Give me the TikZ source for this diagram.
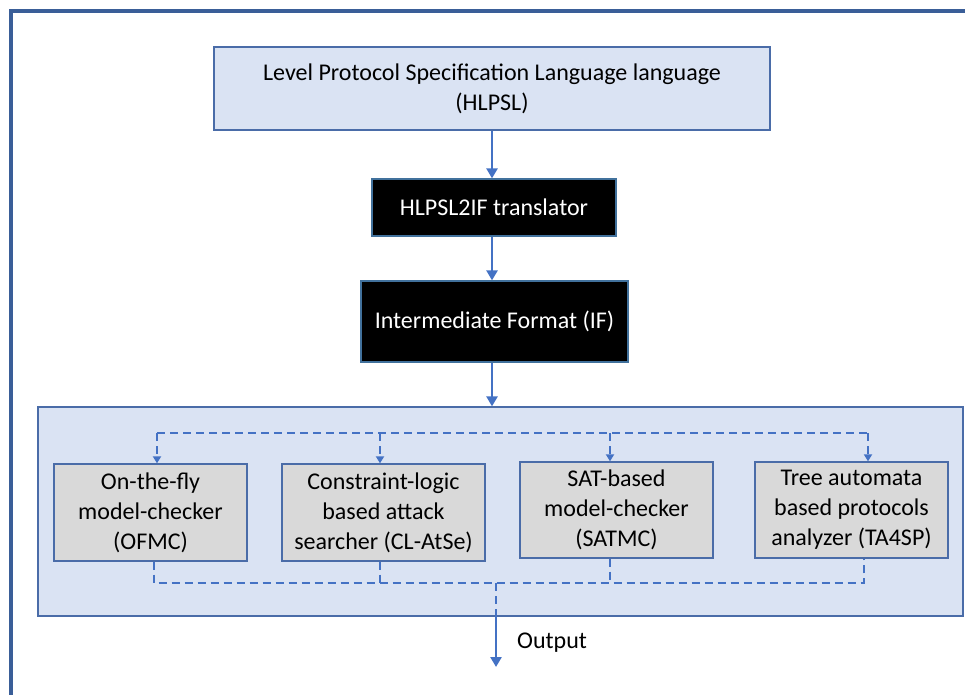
\documentclass[tikz,border=0pt]{standalone}
\usepackage{fontspec}
\setmainfont{Carlito}
\usetikzlibrary{arrows.meta}
\definecolor{frameblue}{RGB}{58,94,152}
\definecolor{lightblue}{RGB}{218,227,243}
\definecolor{boxborder}{RGB}{74,108,168}
\definecolor{arrblue}{RGB}{68,114,196}
\definecolor{grayfill}{RGB}{217,217,217}
\definecolor{blkborder}{RGB}{65,113,156}
\tikzset{
  txt/.style={font=\fontsize{24}{30}\selectfont, align=center, inner sep=0pt},
  bluebox/.style={txt, draw=boxborder, fill=lightblue, line width=1.3pt, rectangle},
  blackbox/.style={txt, draw=blkborder, fill=black, text=white, line width=1.3pt, rectangle},
  graybox/.style={txt, draw=boxborder, fill=grayfill, line width=1.3pt, rectangle},
  arr/.style={draw=arrblue, line width=2.7pt, -{Triangle[length=10pt,width=11pt]}},
  darr/.style={draw=arrblue, line width=1.8pt, dash pattern=on 8pt off 5pt, -{Triangle[length=7pt,width=8pt]}},
  dline/.style={draw=arrblue, line width=1.8pt, dash pattern=on 8pt off 5pt},
}
\begin{document}
\begin{tikzpicture}[x=1pt,y=-1pt]
\useasboundingbox (0,0) rectangle (965,695);
\begin{scope}
\clip (0,0) rectangle (965,695);
\draw[frameblue, line width=3.5pt] (11,11) rectangle (1100,900);
\end{scope}

\node[bluebox, minimum width=556pt, minimum height=83pt] (hlpsl) at (492,88.5)
  {Level Protocol Specification Language language\\(HLPSL)};
\node[blackbox, minimum width=244pt, minimum height=57pt] (trans) at (494,207.5)
  {HLPSL2IF translator};
\node[blackbox, minimum width=267pt, minimum height=81pt] (if) at (494.5,321.5)
  {Intermediate Format (IF)};
\node[draw=boxborder, fill=lightblue, line width=1.3pt, minimum width=925pt, minimum height=209pt, inner sep=0pt] (cont) at (500.5,511.5) {};

\node[graybox, minimum width=193pt, minimum height=97pt] (ofmc) at (150.5,512.5)
  {On-the-fly\\model-checker\\(OFMC)};
\node[graybox, minimum width=203pt, minimum height=97pt] (cl) at (383.5,512.5)
  {Constraint-logic\\based attack\\searcher (CL-AtSe)};
\node[graybox, minimum width=193pt, minimum height=96pt] (sat) at (616.5,510)
  {SAT-based\\model-checker\\(SATMC)};
\node[graybox, minimum width=193pt, minimum height=96pt] (ta) at (851.5,510)
  {Tree automata\\based protocols\\analyzer (TA4SP)};

% main arrows
\coordinate (ax) at (492,0);
\draw[arr] (hlpsl.south -| ax) -- (trans.north -| ax);
\draw[arr] (trans.south -| ax) -- (if.north -| ax);
\draw[arr] (if.south -| ax) -- (cont.north -| ax);

% top dashed distribution
\coordinate (t1) at (157,433);
\coordinate (t2) at (380,433);
\coordinate (t3) at (610,433);
\coordinate (t4) at (868,433);
\draw[dline] (t1) -- (t4);
\draw[darr] (t1) -- (ofmc.north -| t1);
\draw[darr] (t2) -- (cl.north -| t2);
\draw[darr] (t3) -- (sat.north -| t3);
\draw[darr] (t4) -- (ta.north -| t4);

% bottom dashed collection
\coordinate (b1) at (154,583);
\coordinate (b2) at (380,583);
\coordinate (b3) at (610,583);
\coordinate (b4) at (864,583);
\draw[dline] (ofmc.south -| b1) -- (b1) -- (b4) -- (ta.south -| b4);
\draw[dline] (cl.south -| b2) -- (b2);
\draw[dline] (sat.south -| b3) -- (b3);

% output
\coordinate (o1) at (496,583);
\coordinate (oend) at (496,667);
\draw[dline] (o1) -- (cont.south -| o1);
\draw[arr] (cont.south -| o1) -- (oend);
\node[txt, anchor=west] (out) at (517,643) {Output};
\end{tikzpicture}
\end{document}
